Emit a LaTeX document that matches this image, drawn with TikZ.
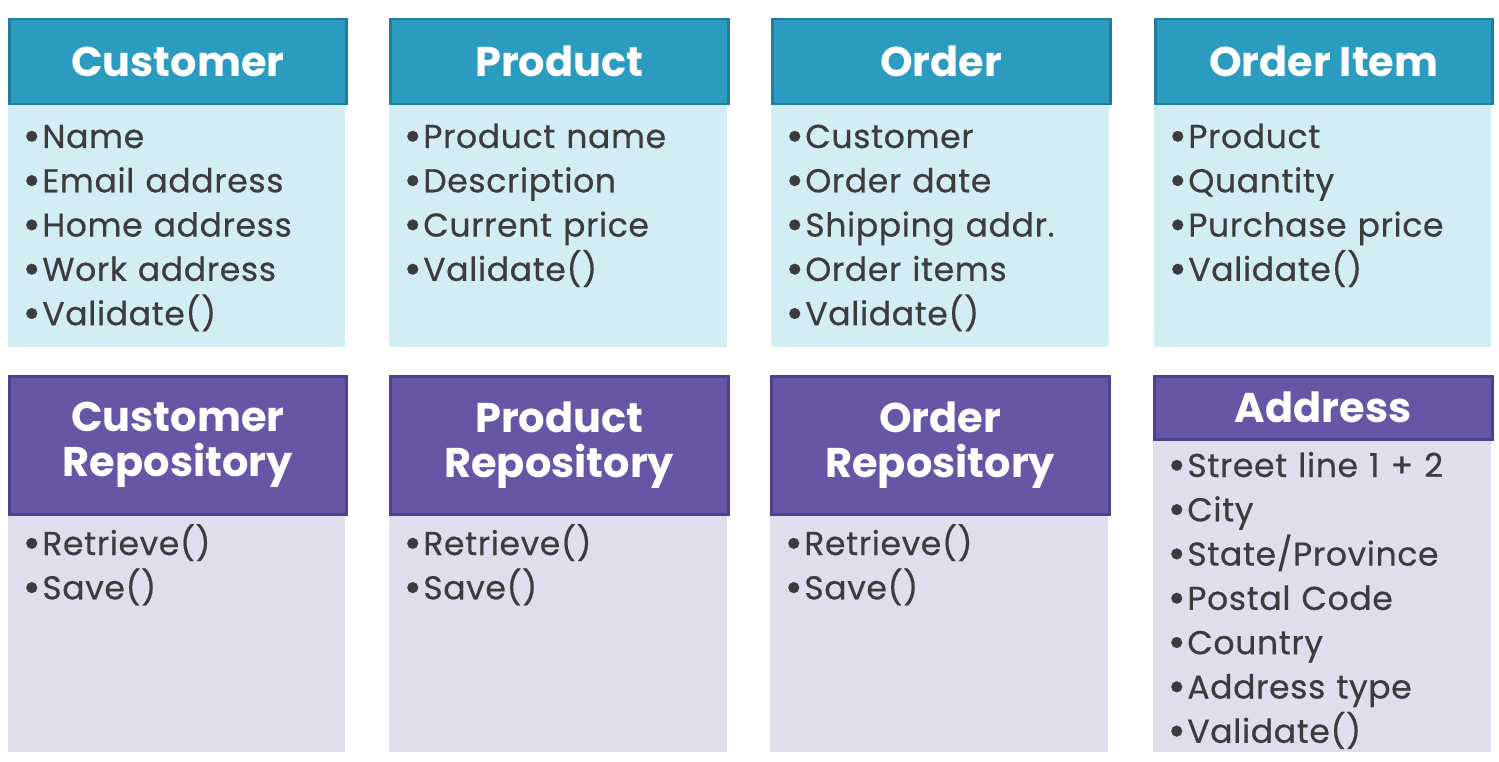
\documentclass[tikz,border=0pt]{standalone}
\usepackage{fontspec}
\setmainfont{Poppins}
\newfontfamily\listfont{Poppins}[FakeBold=0.5,LetterSpace=2]
\newcommand\bl{\raisebox{-3pt}{\fontsize{44}{44}\selectfont•}\kern1.5pt}
\definecolor{tealhead}{HTML}{2B9CBF}
\definecolor{tealedge}{HTML}{1F7E9A}
\definecolor{tealbody}{HTML}{D3EDF4}
\definecolor{purphead}{HTML}{6656A5}
\definecolor{purpedge}{HTML}{4F4190}
\definecolor{purpbody}{HTML}{E0DDEC}
\definecolor{bodytext}{HTML}{3C3C3E}
\tikzset{
  headbox/.style={draw=#1edge, fill=#1head, line width=2.5pt, inner sep=0pt, anchor=north west,
    text=white, font=\fontsize{41.5}{45}\selectfont\bfseries, align=center},
  bodybox/.style={fill=#1body, draw=none, inner sep=0pt, anchor=north west},
  listtext/.style={text=bodytext, font=\listfont\fontsize{33}{44.3}\selectfont, anchor=base west,
    text width=330pt, align=left, inner sep=0pt}
}
% #1 name, #2 colour, #3 left, #4 width, #5 top, #6 header height, #7 body height,
% #8 header text, #9 list
\newcommand\umlclass[9]{%
  \node[bodybox=#2, minimum width=#4pt, minimum height=#7pt] (#1body) at (#3,#5+#6) {};
  \node[headbox=#2, minimum width=#4pt, minimum height=#6pt] (#1head) at (#3,#5) {#8};
  \node[listtext] (#1list) at ([xshift=14.5pt,yshift=-\firstbase]#1body.north west) {#9};
}
\newlength\firstbase
\begin{document}
\begin{tikzpicture}[x=1pt,y=-1pt]
\useasboundingbox (0,0) rectangle (1499,762);
% ---------- top row ----------
\setlength\firstbase{45pt}
\umlclass{cust}{teal}{8}{337}{18}{85}{244}{Customer}
  {\bl Name\\\bl Email address\\\bl Home address\\\bl Work address\\\bl Validate()}
\umlclass{prod}{teal}{389}{338}{18}{85}{244}{Product}
  {\bl Product name\\\bl Description\\\bl Current price\\\bl Validate()}
\umlclass{ord}{teal}{771}{338}{18}{85}{244}{Order}
  {\bl Customer\\\bl Order date\\\bl Shipping addr.\\\bl Order items\\\bl Validate()}
\umlclass{item}{teal}{1154}{337}{18}{85}{244}{Order Item}
  {\bl Product\\\bl Quantity\\\bl Purchase price\\\bl Validate()}
% ---------- bottom row ----------
\setlength\firstbase{42pt}
\umlclass{custrepo}{purp}{8}{337}{375}{138}{239}{Customer\\Repository}
  {\bl Retrieve()\\\bl Save()}
\umlclass{prodrepo}{purp}{389}{338}{375}{138}{239}{Product\\Repository}
  {\bl Retrieve()\\\bl Save()}
\umlclass{ordrepo}{purp}{770}{338}{375}{138}{239}{Order\\Repository}
  {\bl Retrieve()\\\bl Save()}
\setlength\firstbase{39pt}
\umlclass{addr}{purp}{1153}{338}{375}{63}{314}{Address}
  {\bl Street line 1 + 2\\\bl City\\\bl State/Province\\\bl Postal Code\\\bl Country\\\bl Address type\\\bl Validate()}
\end{tikzpicture}
\end{document}
